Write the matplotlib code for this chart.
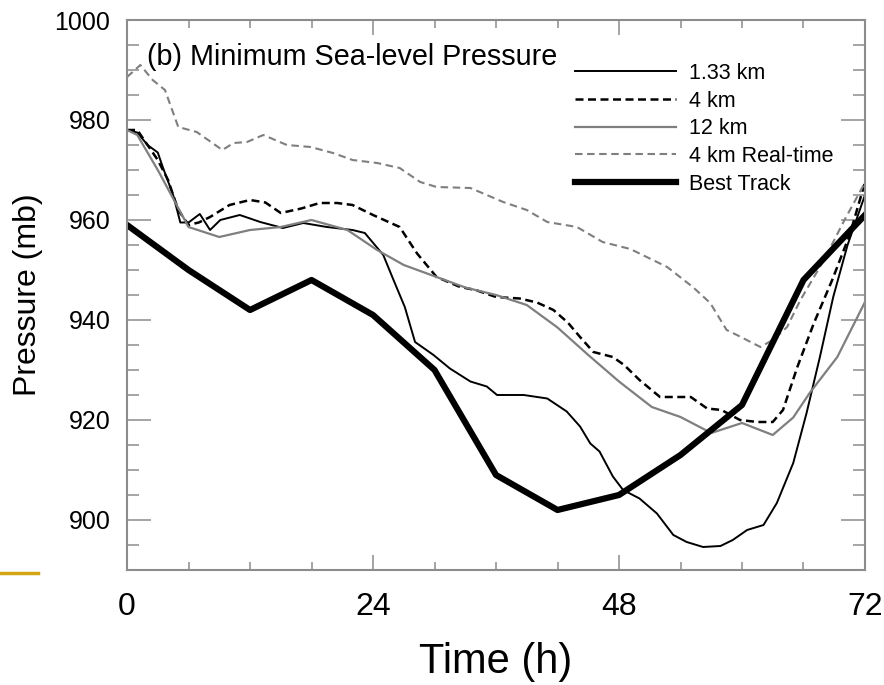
import matplotlib
matplotlib.use('Agg')
from matplotlib import pyplot as plt
from matplotlib.lines import Line2D

plt.rcParams['font.family'] = ['Liberation Sans', 'DejaVu Sans']

# time (h) and minimum sea-level pressure (mb) for each run
t_133 = [0, 1, 2, 3, 3.5, 4.5, 5.2, 6, 7.1, 8.1, 9.1, 11, 13, 15.2, 17.2, 19.5, 22, 23.2, 25, 26, 27.1,
         28.1, 29.9, 31.5, 33.5, 35.1, 36.1, 38.7, 41, 42.9, 44.2, 45.2, 46.1, 47.4, 48.4, 50, 51.7,
         53.3, 54.6, 56.2, 57.9, 59.1, 60.5, 62.1, 63.4, 65, 66.3, 67.6, 68.9, 70.3, 72]
p_133 = [978, 977.5, 975, 973.5, 970.5, 965, 959.5, 959.5, 961.2, 958, 960, 961, 959.6, 958.4, 959.4,
         958.6, 958, 957.4, 953, 948, 942.6, 935.6, 933, 930.3, 927.7, 926.7, 925, 925, 924.3, 921.7,
         918.7, 915.3, 913.7, 908.7, 906, 904.3, 901.3, 897, 895.6, 894.6, 894.8, 896, 898, 899, 903.4,
         911.4, 921.4, 932.6, 944.6, 955, 965]

t_4 = [0, 1, 2, 3, 4, 5, 6, 7, 8.1, 10, 12, 13.5, 15, 17, 18.8, 20.5, 22, 24, 26.6, 28.3, 30.2, 32.5,
       34, 36, 38.3, 40, 41.6, 43, 44.2, 45.5, 47.4, 48.5, 50, 52, 55, 56.6, 58, 59.8, 61.5, 63, 64,
       65.4, 67, 68.8, 70.5, 72]
p_4 = [978, 978, 975, 972, 968, 962, 959, 959.5, 960.6, 963, 964, 963.5, 961.4, 962.3, 963.4, 963.4,
       963, 961, 958.6, 953.3, 948.6, 946.6, 946, 944.6, 944.3, 943.5, 942, 939.5, 936.6, 933.6, 932.6,
       931, 928, 924.6, 924.6, 922.3, 922, 920, 919.6, 919.6, 922, 930.6, 939.3, 948, 957, 967.5]

t_12 = [0, 1, 3, 6, 9, 12, 15, 18, 21.5, 24.4, 27, 30.2, 33, 36, 39, 42, 45, 48, 51.2, 54, 57, 60, 63,
        65, 66.6, 69.3, 72]
p_12 = [978, 977, 970, 958.6, 956.6, 958, 958.6, 960, 958, 954, 951, 948.6, 946.5, 945, 943, 938.5,
        933, 927.7, 922.6, 920.6, 917.4, 919.4, 917, 920.5, 925.4, 932.6, 943.6]

t_rt = [0, 1.3, 2.5, 3.7, 5, 6.8, 9.3, 10.4, 11.7, 13.3, 15.6, 17.9, 20.1, 22, 24.4, 26.6, 28.6, 30.2,
        33.5, 36.7, 39, 41, 43.9, 46.4, 49.1, 52.7, 55.2, 56.9, 58.5, 59.5, 61.8, 63, 64.4, 65.7, 68,
        70, 72]
p_rt = [988.6, 991, 988, 986, 978.6, 977.6, 974, 975.4, 975.6, 977, 975, 974.6, 973.4, 972, 971.4,
        970.4, 967.6, 966.6, 966.4, 963.6, 962, 959.6, 958.6, 955.6, 954.2, 950.6, 946.6, 943.4, 938,
        937, 934.6, 936, 938.6, 944, 952, 960, 967.5]

t_best = [0, 6, 12, 18, 24, 30, 36, 42, 48, 54, 60, 66, 72]
p_best = [959, 950, 942, 948, 941, 930, 909, 902, 905, 913, 923, 948, 961]

fig = plt.figure(figsize=(8.84, 6.85), dpi=100)
ax = fig.add_axes([0.1437, 0.1679, 0.8348, 0.8029])

grey = '#7f7f7f'
ax.plot(t_133, p_133, color='black', lw=1.4, label='1.33 km')
ax.plot(t_4, p_4, color='black', lw=1.8, dashes=(3.2, 1.8), label='4 km')
ax.plot(t_12, p_12, color=grey, lw=1.6, label='12 km')
ax.plot(t_rt, p_rt, color=grey, lw=1.5, dashes=(3.6, 2.2), label='4 km Real-time')
ax.plot(t_best, p_best, color='black', lw=4.5, label='Best Track')

ax.set_xlim(0, 72)
ax.set_ylim(890, 1000)
ax.set_xticks([0, 24, 48, 72])
ax.set_xticks(range(0, 73, 6), minor=True)
ax.set_yticks(range(900, 1001, 20))
ax.set_yticks(range(890, 1001, 5), minor=True)

for s in ax.spines.values():
    s.set_color('#8c8c8c')
    s.set_linewidth(1.5)
ax.tick_params(which='both', direction='in', top=True, right=True, color='#8c8c8c', width=1.1)
ax.tick_params(axis='x', which='major', length=11, labelsize=23, pad=16)
ax.tick_params(axis='x', which='minor', length=5.5)
ax.tick_params(axis='y', which='major', length=17, labelsize=18, pad=12)
ax.tick_params(axis='y', which='minor', length=8.5)

ax.set_xlabel('Time (h)', fontsize=30, labelpad=14)
ax.set_ylabel('Pressure (mb)', fontsize=23)
ax.yaxis.set_label_coords(-0.114, 0.5)

ax.text(0.027, 0.932, '(b) Minimum Sea-level Pressure', transform=ax.transAxes,
        fontsize=20.7, va='center', ha='left')

ax.legend(loc='upper left', bbox_to_anchor=(0.607, 0.922), frameon=False, fontsize=15.5,
          handlelength=4.7, handletextpad=0.6, labelspacing=0.31, borderpad=0, borderaxespad=0)

# gold rule from the slide template, bottom left
fig.add_artist(Line2D([0, 38 / 884], [1 - 573 / 685, 1 - 573 / 685], color='#d4a614', lw=2.5,
                      transform=fig.transFigure))

fig.savefig('out.png', dpi=100)
